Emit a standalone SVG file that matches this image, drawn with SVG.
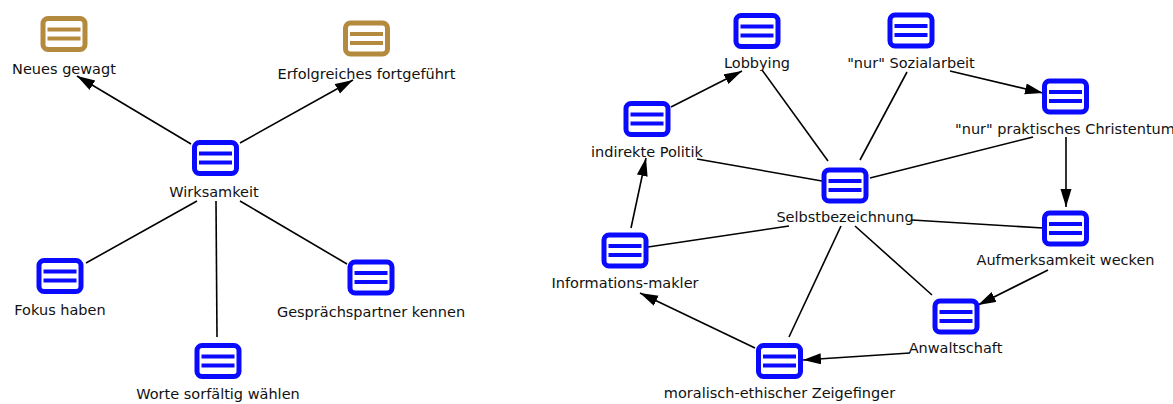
<svg xmlns="http://www.w3.org/2000/svg" width="1173" height="404" viewBox="0 0 1173 404">
<style>
.lbl{font-family:"DejaVu Sans","Liberation Sans",sans-serif;font-size:14.5px;fill:#111;text-anchor:middle}
.frame{fill:#fff;stroke:currentColor;stroke-width:5}
.bar{fill:currentColor}
.blue{color:#0a0aff}
.brown{color:#b38a3e}
.edge{stroke:#000;stroke-width:1.6;fill:none}
.arr{marker-end:url(#ah)}
</style>
<defs>
<marker id="ah" markerUnits="userSpaceOnUse" markerWidth="19" markerHeight="12" refX="18" refY="5.5" orient="auto">
<path d="M0,0 L18,5.5 L0,11 z" fill="#000"/>
</marker>
<g id="icon">
<rect class="frame" x="-21" y="-15.5" width="42" height="31" rx="5"/>
<rect class="bar" x="-16.5" y="-6.5" width="33" height="4"/>
<rect class="bar" x="-16.5" y="2.5" width="33" height="4"/>
</g>
</defs>
<g id="connectors">
<line class="edge arr" x1="191" y1="144" x2="77" y2="76"/>
<line class="edge arr" x1="240" y1="143" x2="353" y2="80"/>
<line class="edge" x1="197" y1="201" x2="86" y2="263"/>
<line class="edge" x1="216" y1="201" x2="217" y2="337"/>
<line class="edge" x1="240" y1="201" x2="347" y2="264"/>
<line class="edge arr" x1="671" y1="107" x2="742" y2="71"/>
<line class="edge" x1="762" y1="70" x2="828" y2="161"/>
<line class="edge" x1="697" y1="159" x2="822" y2="181"/>
<line class="edge" x1="907" y1="72" x2="860" y2="160"/>
<line class="edge arr" x1="950" y1="71" x2="1043" y2="93"/>
<line class="edge" x1="870" y1="178" x2="1033" y2="137"/>
<line class="edge arr" x1="1066" y1="137" x2="1066" y2="207"/>
<line class="edge" x1="912" y1="220" x2="1043" y2="228"/>
<line class="edge" x1="855" y1="226" x2="932" y2="295"/>
<line class="edge arr" x1="1048" y1="270" x2="978" y2="305"/>
<line class="edge arr" x1="910" y1="353" x2="803" y2="360"/>
<line class="edge" x1="841" y1="226" x2="789" y2="337"/>
<line class="edge arr" x1="755" y1="348" x2="640" y2="293"/>
<line class="edge" x1="648" y1="247" x2="789" y2="226"/>
<line class="edge arr" x1="631" y1="228" x2="646" y2="158"/>
</g>
<g id="n-neues" class="brown"><use href="#icon" x="64" y="34"/><text class="lbl" x="64" y="74">Neues gewagt</text></g>
<g id="n-erfolgreiches" class="brown"><use href="#icon" x="366.5" y="38.5"/><text class="lbl" x="366.5" y="79">Erfolgreiches fortgeführt</text></g>
<g id="n-wirksamkeit" class="blue"><use href="#icon" x="215.5" y="158"/><text class="lbl" x="214" y="197">Wirksamkeit</text></g>
<g id="n-fokus" class="blue"><use href="#icon" x="60" y="276"/><text class="lbl" x="60" y="315">Fokus haben</text></g>
<g id="n-gespraech" class="blue"><use href="#icon" x="371" y="277.5"/><text class="lbl" x="371" y="317">Gesprächspartner kennen</text></g>
<g id="n-worte" class="blue"><use href="#icon" x="218" y="361"/><text class="lbl" x="218" y="399">Worte sorfältig wählen</text></g>
<g id="n-lobbying" class="blue"><use href="#icon" x="757" y="31"/><text class="lbl" x="757" y="68">Lobbying</text></g>
<g id="n-sozialarbeit" class="blue"><use href="#icon" x="911" y="30.5"/><text class="lbl" x="911" y="68">"nur" Sozialarbeit</text></g>
<g id="n-christentum" class="blue"><use href="#icon" x="1065.5" y="96.5"/><text class="lbl" x="1065" y="134">"nur" praktisches Christentum</text></g>
<g id="n-indirekte" class="blue"><use href="#icon" x="647" y="119"/><text class="lbl" x="647" y="157">indirekte Politik</text></g>
<g id="n-selbst" class="blue"><use href="#icon" x="845" y="185.5"/><text class="lbl" x="845" y="222">Selbstbezeichnung</text></g>
<g id="n-aufmerksamkeit" class="blue"><use href="#icon" x="1065.5" y="228.5"/><text class="lbl" x="1065.5" y="265">Aufmerksamkeit wecken</text></g>
<g id="n-informations" class="blue"><use href="#icon" x="625" y="250.5"/><text class="lbl" x="625" y="288">Informations-makler</text></g>
<g id="n-anwaltschaft" class="blue"><use href="#icon" x="956" y="316.5"/><text class="lbl" x="955.5" y="353">Anwaltschaft</text></g>
<g id="n-zeigefinger" class="blue"><use href="#icon" x="779.5" y="361"/><text class="lbl" x="779.5" y="398">moralisch-ethischer Zeigefinger</text></g>
</svg>
